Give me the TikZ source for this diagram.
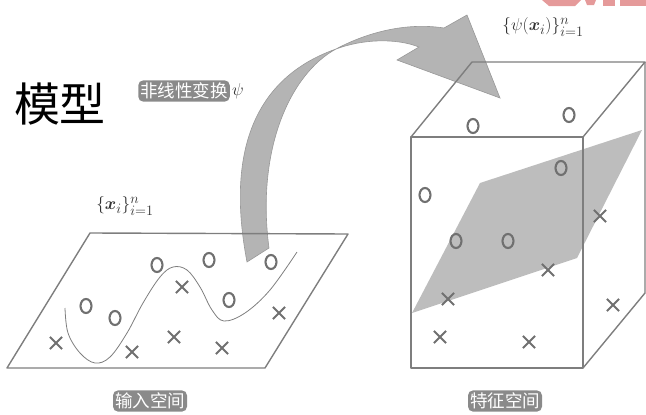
\documentclass[tikz,border=0pt]{standalone}
\usepackage{amsmath}
\usepackage{bm}
\usepackage{fontspec}
\newfontfamily\cjk{Noto Sans CJK SC}
\definecolor{edgegray}{HTML}{7E7E7E}
\definecolor{markgray}{HTML}{707070}
\definecolor{planegray}{HTML}{BDBDBD}
\definecolor{arrowgray}{HTML}{B4B4B4}
\definecolor{taggray}{HTML}{8A8A8A}
\definecolor{wmpink}{HTML}{E59A9A}
\tikzset{
  frame/.style={draw=edgegray, line width=1.4pt, line join=round},
  omark/.style={draw=markgray, line width=2.1pt, ellipse, minimum width=11pt, minimum height=14pt, inner sep=0pt},
  xmark/.style={draw=markgray, line width=2.1pt, cross out, minimum size=10pt, inner sep=0pt},
  tag/.style={fill=taggray, text=white, rounded corners=5pt, inner xsep=2pt, inner ysep=2.5pt, font=\cjk\fontsize{17.5}{19}\selectfont},
  mathlbl/.style={text=black!80, font=\fontsize{19}{22}\selectfont, inner sep=0pt}
}
\usetikzlibrary{shapes.geometric,shapes.misc}
\begin{document}
\begin{tikzpicture}[x=1pt,y=-1pt]
\useasboundingbox (0,0) rectangle (646,415);
% watermark fragment
\fill[wmpink] (542,0)--(581,0)--(575,6)--(549,6)--cycle;
\fill[wmpink] (585,0)--(596,0)--(594,5)--(587,5)--cycle;
\fill[wmpink] (603,0)--(615,0)--(615,6)--(603,6)--cycle;
\fill[wmpink] (620,0)--(646,0)--(646,6)--(620,6)--cycle;
% big arrow (twisted ribbon)
\coordinate (pinch) at (336,49);
\filldraw[fill=arrowgray, draw=edgegray!80, line width=0.6pt]
  (247,262) .. controls (226,152) and (254,78) .. (pinch)
  .. controls (290,74) and (256,150) .. (269,248) -- cycle;
\filldraw[fill=arrowgray, draw=edgegray!80, line width=0.6pt]
  (pinch) .. controls (366,33) and (405,22) .. (444,28)
  -- (467,15) -- (500,98) -- (397,60) -- (419,47)
  .. controls (396,38) and (363,39) .. (pinch) -- cycle;
% left plane
\draw[frame] (90,233) -- (348,234) -- (265,368) -- (7,368) -- cycle;
\draw[edgegray, line width=0.8pt] plot[smooth, tension=0.6] coordinates {(65,308) (68,333) (80,353) (95,363) (110,357) (127,333) (143,303) (160,277) (173,267) (187,270) (200,287) (212,310) (224,321) (245,313) (270,290) (297,252)};
\foreach \p [count=\i] in {(86,306),(115,318),(157,265),(209,260),(271,262),(229,300)}
  \node[omark] (lo\i) at \p {};
\foreach \p [count=\i] in {(56,343),(132,352),(174,337),(182,287),(222,348),(279,313)}
  \node[xmark] (lx\i) at \p {};
% cube
\fill[planegray] (412,313) -- (480,183) -- (642,130) -- (577,258) -- cycle;
\draw[frame] (411,137) rectangle (583,368);
\draw[frame] (411,137) -- (472,62) -- (645,62) -- (583,137);
\draw[frame] (645,62) -- (645,293) -- (583,368);
\foreach \p [count=\i] in {(473,126),(569,115),(561,168),(425,195),(456,241),(508,241)}
  \node[omark] (co\i) at \p {};
\foreach \p [count=\i] in {(600,216),(548,270),(448,299),(613,305),(440,337),(529,342)}
  \node[xmark] (cx\i) at \p {};
% labels
\node[font=\cjk\fontsize{46}{50}\selectfont, inner sep=0pt] (model) at (60,104) {模型};
\node[tag] (psitag) at (184,91) {非线性变换};
\node[mathlbl, anchor=west, xshift=2pt] (psi) at (psitag.east) {$\psi$};
\node[mathlbl] (xset) at (125,206) {$\{\bm{x}_i\}_{i=1}^{n}$};
\node[mathlbl] (psiset) at (543,27) {$\{\psi(\bm{x}_i)\}_{i=1}^{n}$};
\node[tag] (inspace) at (150,401) {输入空间};
\node[tag] (featspace) at (505,401) {特征空间};
\end{tikzpicture}
\end{document}
